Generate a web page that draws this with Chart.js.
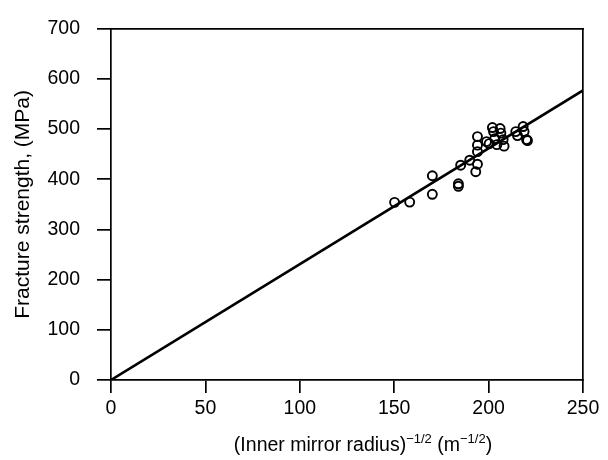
<!DOCTYPE html>
<html>
<head>
<meta charset="utf-8">
<script src="https://cdn.jsdelivr.net/npm/chart.js@4/dist/chart.umd.min.js"></script>
<style>
  html, body { margin: 0; padding: 0; background: #fff; }
  #wrap { width: 608px; height: 460px; }
</style>
</head>
<body>
<div id="wrap"><canvas id="chart" width="608" height="460"></canvas></div>
<script>
const radiusX = [150.2, 158.2, 170.2, 170.2, 184, 184, 185.2, 190, 193.2, 194.1, 194.1, 194.1, 194.1,
  198.9, 200.3, 202, 202.6, 203.3, 204.4, 206.1, 206.5, 207.7, 208.2, 214.4, 215.3, 218.3, 218.8, 220.1, 220.6]
const strengthY = [354, 354.5, 407, 370, 391, 386, 428, 438, 415, 430, 455, 468, 485,
  475, 471, 503, 495, 481, 469, 501, 492, 479, 466, 495, 487, 505, 495, 479, 477]

// fitted line through the origin
const fitX = [0, 250]
const fitY = [0, 577]

const xTicks = [0, 50, 100, 150, 200, 250]
const yTicks = [0, 100, 200, 300, 400, 500, 600, 700]

const FONT = 'Liberation Sans, Arial, Helvetica, sans-serif'
Chart.defaults.font.family = FONT
Chart.defaults.color = '#000'

const toXY = (xs, ys) => xs.map((x, i) => ({ x: x, y: ys[i] }))

const axisLine = { display: true, color: '#000', width: 1.7 }
const tickMarks = (len) => ({ drawOnChartArea: false, drawTicks: true, tickLength: len, color: '#000', lineWidth: 1.7 })

// x title has superscripts, so draw it by hand
const xTitle = {
  id: 'xTitle',
  afterDraw(chart) {
    const ctx = chart.ctx
    const parts = [
      ['(Inner mirror radius)', false],
      ['\u22121/2', true],
      [' (m', false],
      ['\u22121/2', true],
      [')', false]
    ]
    const big = '19.5px ' + FONT
    const small = '13px ' + FONT
    ctx.save()
    ctx.fillStyle = '#000'
    ctx.textBaseline = 'alphabetic'
    ctx.textAlign = 'left'
    let total = 0
    parts.forEach(([t, sup]) => { ctx.font = sup ? small : big; total += ctx.measureText(t).width })
    let x = 363 - total / 2
    const base = 451
    parts.forEach(([t, sup]) => {
      ctx.font = sup ? small : big
      ctx.fillText(t, x, sup ? base - 8 : base)
      x += ctx.measureText(t).width
    })
    ctx.restore()
  }
}

new Chart(document.getElementById('chart'), {
  type: 'scatter',
  data: {
    datasets: [
      {
        data: toXY(radiusX, strengthY),
        pointRadius: 4.5,
        pointBorderWidth: 1.9,
        borderColor: '#000',
        backgroundColor: 'rgba(255,255,255,0)',
        pointHoverRadius: 4.5
      },
      {
        data: toXY(fitX, fitY),
        showLine: true,
        borderColor: '#000',
        borderWidth: 2.6,
        pointRadius: 0,
        pointHoverRadius: 0
      }
    ]
  },
  options: {
    responsive: false,
    animation: false,
    events: [],
    layout: { padding: { top: 22, right: 25, left: 0, bottom: 0 } },
    plugins: { legend: { display: false }, tooltip: { enabled: false } },
    scales: {
      x: {
        type: 'linear',
        min: 0, max: 250,
        border: axisLine,
        grid: tickMarks(13),
        afterBuildTicks: (s) => { s.ticks = xTicks.map(v => ({ value: v })) },
        afterFit: (s) => { s.height = 80 },
        ticks: { font: { size: 19.5 }, padding: 4, maxRotation: 0, autoSkip: false, color: '#000' }
      },
      y: {
        type: 'linear',
        min: 0, max: 700,
        border: axisLine,
        grid: tickMarks(14),
        afterBuildTicks: (s) => { s.ticks = yTicks.map(v => ({ value: v })) },
        afterFit: (s) => { s.width = 111 },
        ticks: { font: { size: 19.5 }, padding: 17, autoSkip: false, color: '#000' },
        title: {
          display: true,
          text: 'Fracture strength, (MPa)',
          font: { size: 21 },
          color: '#000',
          padding: { top: 11, bottom: 0 }
        }
      },
      x2: {
        type: 'linear', position: 'top', min: 0, max: 250,
        border: axisLine,
        grid: { display: false, drawTicks: false },
        ticks: { display: false },
        afterFit: (s) => { s.height = 0 }
      },
      y2: {
        type: 'linear', position: 'right', min: 0, max: 700,
        border: axisLine,
        grid: { display: false, drawTicks: false },
        ticks: { display: false },
        afterFit: (s) => { s.width = 0 }
      }
    }
  },
  plugins: [xTitle]
})
</script>
</body>
</html>
